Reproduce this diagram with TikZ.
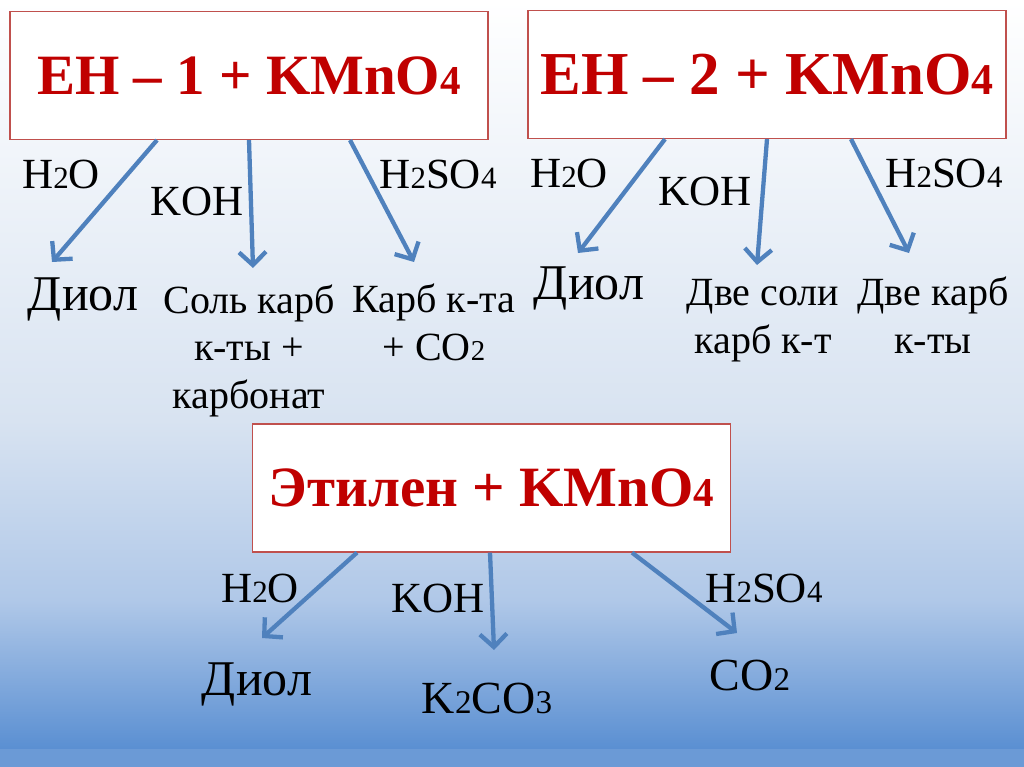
\documentclass[tikz,border=0pt]{standalone}
\usepackage{fontspec}
\setmainfont{Liberation Serif}
\usepackage{tikz}
\usetikzlibrary{calc}
\usetikzlibrary{positioning}
\usetikzlibrary{arrows.meta}

\definecolor{boxred}{HTML}{C0504D}
\definecolor{titlered}{HTML}{C00000}
\definecolor{arrowblue}{HTML}{4F81BD}
\definecolor{bgmid}{HTML}{D8E3F1}
\definecolor{bglow}{HTML}{B0C8E8}
\definecolor{bgdeep}{HTML}{5A8FD2}

\newcommand{\dgt}[1]{\scalebox{0.72}{#1}}
\newcommand{\fs}[1]{\fontsize{#1}{1.18\dimexpr#1pt\relax}\selectfont}

\begin{document}
\begin{tikzpicture}[x=1pt,y=-1pt,
    reactbox/.style={draw=boxred, line width=1.2pt, fill=white, minimum width=478pt, minimum height=128pt, inner sep=0pt, text=titlered, font=\bfseries\fs{57}},
    reagent/.style={anchor=base, inner sep=0pt, font=\fs{43}},
    product/.style={anchor=base, inner sep=0pt, align=center, font=\fs{40}},
    biglabel/.style={anchor=base, inner sep=0pt, font=\fs{50}},
    react/.style={draw=arrowblue, line width=4.3pt, -{Straight Barb[length=13pt,width=27pt]}}]

    % background
    \useasboundingbox (0,0) rectangle (1024,767);
    \shade[top color=white, bottom color=bgmid] (0,0) rectangle (1024,420);
    \shade[top color=bgmid, bottom color=bglow] (0,420) rectangle (1024,600);
    \shade[top color=bglow, bottom color=bgdeep] (0,600) rectangle (1024,749);
    \fill[bgdeep!90!white] (0,749) rectangle (1024,767);

    % boxes
    \node [reactbox] (en1_box) at (249,75.5) {EH – 1 + KMnO\dgt{4}};
    \node [reactbox, font=\bfseries\fs{61}] (en2_box) at (767,74.5) {EH – 2 + KMnO\dgt{4}};
    \node [reactbox] (eth_box) at (491.5,488) {Этилен + KMnO\dgt{4}};

    % EH-1 (multi-line nodes sit on their last line)
    \node [reagent] (en1_h2o) at (61,189) {H\dgt{2}O};
    \node [reagent] (en1_koh) at (197,215) {KOH};
    \node [reagent] (en1_h2so4) at (438,189) {H\dgt{2}SO\dgt{4}};
    \node [biglabel] (en1_diol) at (83,310) {Диол};
    \node [product] (en1_salt) at (249,408) {Соль карб\\к-ты +\\карбонат};
    \node [product] (en1_acid) at (434,360) {Карб к-та\\+ CO\dgt{2}};

    \coordinate (en1_t1) at (52,262);
    \coordinate (en1_t2) at (253,268);
    \coordinate (en1_t3) at (414,262);
    \draw[react] ([xshift=-92pt]en1_box.south) -- (en1_t1);
    \draw[react] (en1_box.south) -- (en1_t2);
    \draw[react] ([xshift=101pt]en1_box.south) -- (en1_t3);

    % EH-2
    \node [reagent] (en2_h2o) at (569,188) {H\dgt{2}O};
    \node [reagent] (en2_koh) at (705,206) {KOH};
    \node [reagent] (en2_h2so4) at (944,188) {H\dgt{2}SO\dgt{4}};
    \node [biglabel] (en2_diol) at (589,299) {Диол};
    \node [product] (en2_salts) at (763,353) {Две соли\\карб к-т};
    \node [product] (en2_acids) at (933,353) {Две карб\\к-ты};

    \coordinate (en2_t1) at (578,253);
    \coordinate (en2_t2) at (757,265);
    \coordinate (en2_t3) at (909,253);
    \draw[react] ([xshift=-102pt]en2_box.south) -- (en2_t1);
    \draw[react] (en2_box.south) -- (en2_t2);
    \draw[react] ([xshift=84pt]en2_box.south) -- (en2_t3);

    % ethylene
    \node [reagent] (eth_h2o) at (260,602) {H\dgt{2}O};
    \node [reagent] (eth_koh) at (438,612) {KOH};
    \node [reagent] (eth_h2so4) at (764,602) {H\dgt{2}SO\dgt{4}};
    \node [biglabel] (eth_diol) at (257,695) {Диол};
    \node [biglabel, font=\fs{46}] (eth_k2co3) at (487,713) {K\dgt{2}CO\dgt{3}};
    \node [biglabel, font=\fs{46}] (eth_co2) at (750,690) {CO\dgt{2}};

    \coordinate (eth_t1) at (262,638);
    \coordinate (eth_t2) at (494,650);
    \coordinate (eth_t3) at (737,633);
    \draw[react] ([xshift=-134.5pt]eth_box.south) -- (eth_t1);
    \draw[react] ([xshift=-1.5pt]eth_box.south) -- (eth_t2);
    \draw[react] ([xshift=140.5pt]eth_box.south) -- (eth_t3);

\end{tikzpicture}
\end{document}
